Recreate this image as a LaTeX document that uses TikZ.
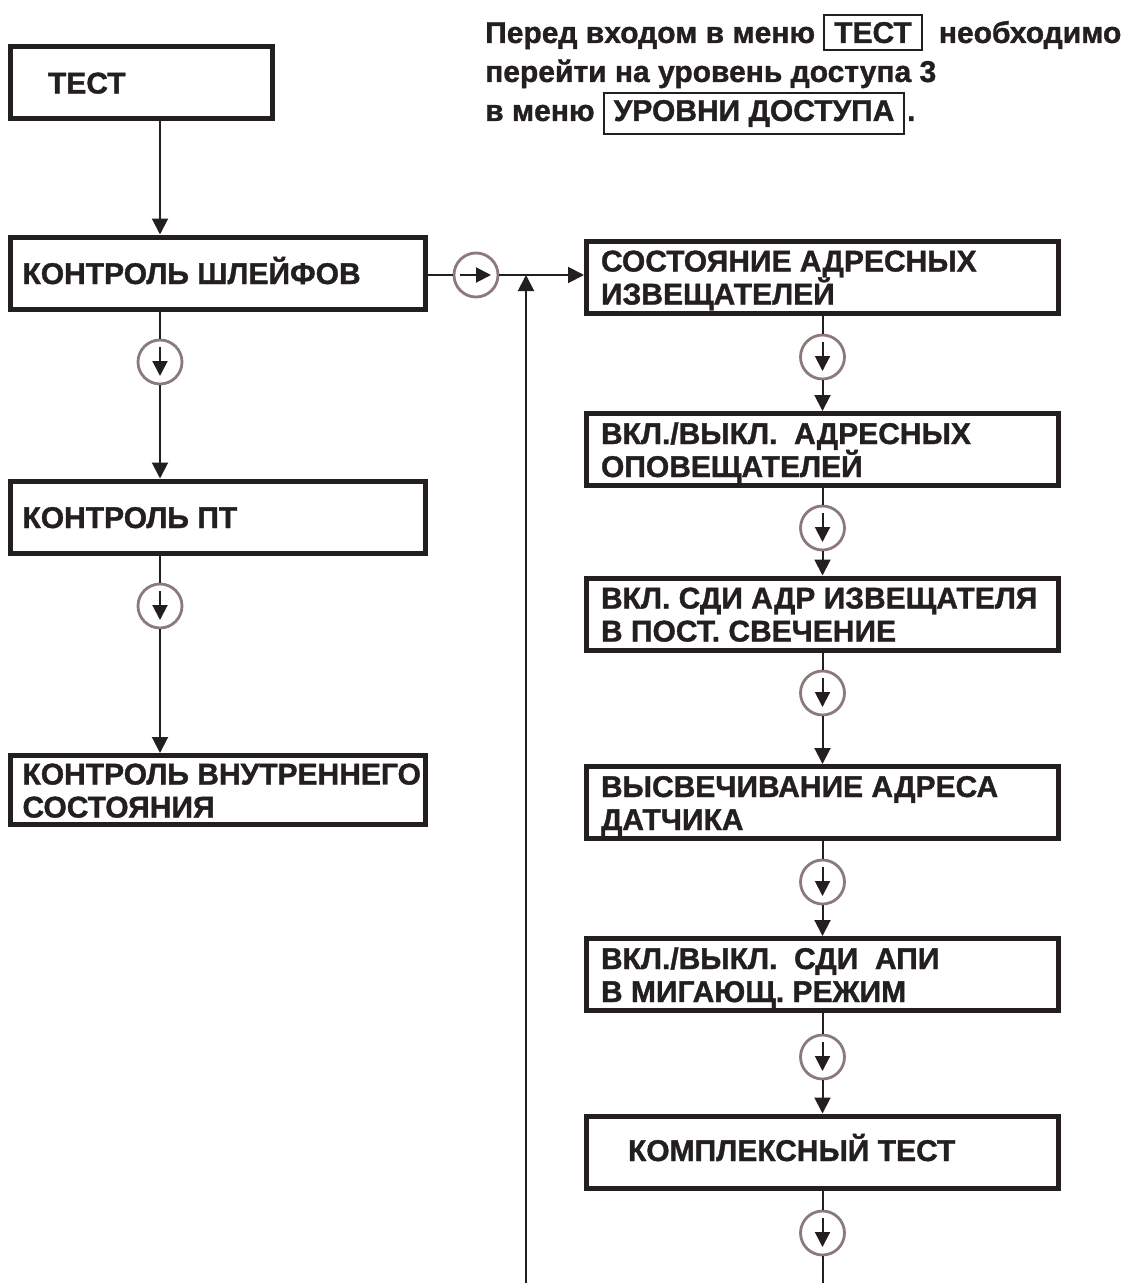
\documentclass[tikz,border=0pt]{standalone}
\usepackage{fontspec}
\setmainfont{Liberation Sans}[BoldFeatures={FakeBold=1.2}]
\usetikzlibrary{arrows.meta,calc}
\definecolor{ink}{RGB}{35,31,32}
\definecolor{ringc}{RGB}{140,122,122}
% framed menu name inside the running note
\newcommand\menuframe[1]{{\setlength\fboxrule{1.8pt}\setlength\fboxsep{6pt}\fcolorbox{ink}{white}{\hspace{3pt}#1\hspace{3pt}}}}
% box captions: fixed cap height, fixed baseline step, left aligned
\newcommand\boxline[2]{\hbox to #1{\rule{0pt}{22pt}\smash{#2}\hss}}
\newcommand\boxlines[3]{\vbox{\baselineskip=33pt\lineskiplimit=-100pt
  \hbox to #1{\rule{0pt}{22pt}\smash{#2}\hss}\hbox to #1{\smash{#3}\hss}}}
\begin{document}
\begin{tikzpicture}[x=1pt,y=-1pt,
  menubox/.style={draw=ink, line width=5pt, inner sep=0pt,
    font=\fontsize{30}{33}\selectfont\bfseries, text=ink, minimum height=72pt},
  leftbox/.style={menubox, minimum width=415pt},
  rightbox/.style={menubox, minimum width=472pt},
  ring/.style={circle, draw=ringc, line width=2.8pt, minimum size=44pt, inner sep=0pt},
  link/.style={draw=ink, line width=2pt},
  flow/.style={link, -{Triangle[length=16pt,width=16pt]}},
  inflow/.style={link, -{Triangle[length=15pt,width=15pt]}},
]
\useasboundingbox[fill=white] (0,0) rectangle (1129,1283);

% note about the access level
\node[anchor=north west, inner sep=0pt, align=left, text=ink,
  font=\fontsize{30}{39}\selectfont\bfseries] (note) at (485,14)
  {Перед входом в меню \menuframe{ТЕСТ}\hspace{8pt} необходимо\\
   перейти на уровень доступа 3\\
   в меню \menuframe{УРОВНИ ДОСТУПА}\hspace{2pt}.};

% left column
\node[menubox, minimum width=262pt] (m0) at (141.5,82.5) {\boxline{187pt}{ТЕСТ}};
\node[leftbox] (m1) at (218,273) {\boxline{391pt}{КОНТРОЛЬ ШЛЕЙФОВ}};
\node[leftbox] (m2) at (218,517) {\boxline{391pt}{КОНТРОЛЬ ПТ}};
\node[leftbox, minimum height=69pt] (m3) at (218,790)
  {\boxlines{391pt}{КОНТРОЛЬ ВНУТРЕННЕГО}{СОСТОЯНИЯ}};
\node[ring] (k1) at (160,362) {};
\node[ring] (k2) at (160,606) {};

% right column
\node[rightbox] (r1) at (822.5,277) {\boxlines{443pt}{СОСТОЯНИЕ АДРЕСНЫХ}{ИЗВЕЩАТЕЛЕЙ}};
\node[rightbox] (r2) at (822.5,449.5) {\boxlines{443pt}{ВКЛ./ВЫКЛ.\ \ АДРЕСНЫХ}{ОПОВЕЩАТЕЛЕЙ}};
\node[rightbox] (r3) at (822.5,614) {\boxlines{443pt}{ВКЛ. СДИ АДР ИЗВЕЩАТЕЛЯ}{В ПОСТ. СВЕЧЕНИЕ}};
\node[rightbox] (r4) at (822.5,802.5) {\boxlines{443pt}{ВЫСВЕЧИВАНИЕ АДРЕСА}{ДАТЧИКА}};
\node[rightbox] (r5) at (822.5,974.5) {\boxlines{443pt}{ВКЛ./ВЫКЛ.\ \ СДИ\ \ АПИ}{В МИГАЮЩ. РЕЖИМ}};
\node[rightbox] (r6) at (822.5,1152) {\raisebox{4pt}{\boxline{389pt}{КОМПЛЕКСНЫЙ ТЕСТ}}};
\node[ring] (q1) at (822.5,357) {};
\node[ring] (q2) at (822.5,528) {};
\node[ring] (q3) at (822.5,693) {};
\node[ring] (q4) at (822.5,882) {};
\node[ring] (q5) at (822.5,1057) {};
\node[ring] (q6) at (822.5,1233) {};
\node[ring] (kr) at (476,275) {};

\coordinate (loopfoot) at (526,1283);
\coordinate (tail) at (822.5,1283);

% left connectors
\draw[flow] (m0.south -| k1) -- (m1.north -| k1);
\draw[link] (m1.south -| k1) -- (k1);
\draw[flow] (k1) -- (m2.north -| k1);
\draw[link] (m2.south -| k1) -- (k2);
\draw[flow] (k2) -- (m3.north -| k2);

% branch to the right column
\draw[link] (m1.east |- kr) -- (kr);
\draw[flow] (kr) -- (r1.west |- kr);
\draw[flow] (loopfoot) -- (loopfoot |- kr);

% right connectors
\draw[link] (r1) -- (q1); \draw[flow] (q1) -- (r2);
\draw[link] (r2) -- (q2); \draw[flow] (q2) -- (r3);
\draw[link] (r3) -- (q3); \draw[flow] (q3) -- (r4);
\draw[link] (r4) -- (q4); \draw[flow] (q4) -- (r5);
\draw[link] (r5) -- (q5); \draw[flow] (q5) -- (r6);
\draw[link] (r6) -- (q6);
\draw[link] (q6) -- (tail);

% arrows inside the step rings
\foreach \k in {k1,k2,q1,q2,q3,q4,q5,q6}
  \draw[inflow] ($(\k)+(0,-15)$) -- ($(\k)+(0,14)$);
\draw[inflow] ($(kr)+(-16,0)$) -- ($(kr)+(15,0)$);
\end{tikzpicture}
\end{document}
